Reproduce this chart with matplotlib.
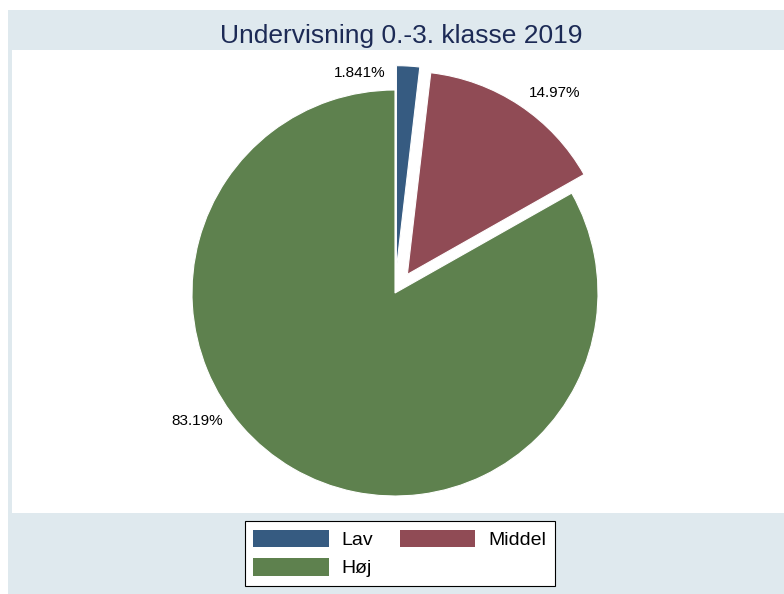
import matplotlib
matplotlib.use('Agg')
import matplotlib.pyplot as plt
from matplotlib.patches import Rectangle, Patch

plt.rcParams['font.family'] = ['Liberation Sans', 'DejaVu Sans']

# data
categories = ['Lav', 'Middel', 'Høj']
shares = [1.841, 14.97, 83.19]
colors = ['#365b81', '#904b55', '#5e814e']
exploded = [0.12, 0.11, 0.0]
title = 'Undervisning 0.-3. klasse 2019'

# label positions (data units, radius = 1)
label_xy = [(-0.172, 1.084), (0.788, 0.985), (-0.975, -0.63)]

W, H = 784, 594
fig = plt.figure(figsize=(W / 100, H / 100), dpi=100)
fig.patch.set_facecolor('white')

# light blue graph region and white plot region
fig.add_artist(Rectangle((8 / W, 0), 1, 1 - 10 / H, transform=fig.transFigure,
                         facecolor='#dfe9ee', edgecolor='none', zorder=0))
fig.add_artist(Rectangle((12 / W, 1 - 513 / H), 1, (513 - 50) / H, transform=fig.transFigure,
                         facecolor='white', edgecolor='none', zorder=0))

ax = fig.add_axes([12 / W, 1 - 513 / H, (W - 12) / W, (513 - 50) / H])
ax.set_facecolor('none')
r = 203.0
cx, cy = 395 - 12, 513 - 293
ax.axis('off')

wedges, texts, autotexts = ax.pie(shares, colors=colors, explode=exploded, startangle=90,
                                  counterclock=False, autopct='%.4g%%',
                                  wedgeprops=dict(edgecolor='white', linewidth=0.8),
                                  textprops=dict(fontsize=11, color='black'))
for t, xy in zip(autotexts, label_xy):
    t.set_position(xy)
    t.set_ha('center')
    t.set_va('center')
ax.set_xlim(-cx / r, (W - 12 - cx) / r)
ax.set_ylim(-cy / r, (513 - 50 - cy) / r)
ax.set_aspect('auto')

fig.text(401.5 / W, 1 - 36 / H, title, ha='center', va='center', fontsize=19, color='#1c2a55')

handles = [Patch(facecolor=c, edgecolor='none') for c in colors]
order = [0, 2, 1]
leg = fig.legend([handles[i] for i in order], [categories[i] for i in order], ncol=2,
                 loc='center', bbox_to_anchor=(399.5 / W, 1 - 553.5 / H), fontsize=14,
                 handlelength=3.87, handleheight=1.03, handletextpad=0.65, columnspacing=1.4,
                 labelspacing=0.45, borderpad=0.45, borderaxespad=0, fancybox=False,
                 framealpha=1, edgecolor='black')
leg.get_frame().set_linewidth(0.8)

fig.savefig('out.png', dpi=100)
